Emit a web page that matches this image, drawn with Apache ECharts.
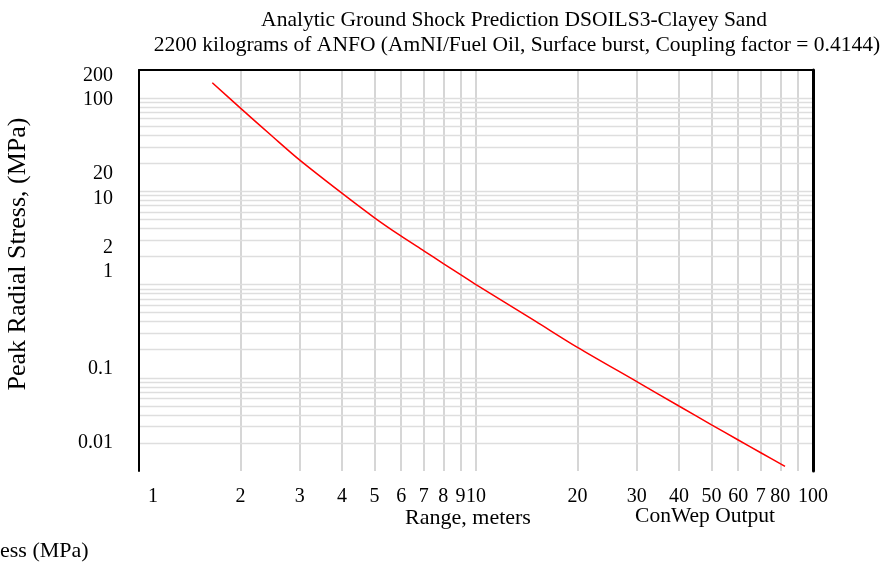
<!DOCTYPE html>
<html><head><meta charset="utf-8">
<script src="https://cdn.jsdelivr.net/npm/echarts@6/dist/echarts.min.js"></script>
<style>html,body{margin:0;padding:0;background:#fff}#c{width:885px;height:563px}</style>
</head><body><div id="c"></div>
<script>
// Range (m) and peak radial stress (MPa)
const rangeM    = [1.65, 2, 2.5, 3, 4, 5, 6, 7, 8, 9, 10, 15, 20, 30, 40, 50, 60, 70, 82.6];
const stressMPa = [146, 78, 38.2, 21.6, 9.55, 5.2, 3.3, 2.3, 1.68, 1.28, 1.0, 0.405, 0.212, 0.091, 0.0498, 0.0313, 0.0215, 0.0157, 0.0112];

// Grid lines
const xGridValues = [2, 3, 4, 5, 6, 7, 8, 9, 10, 20, 30, 40, 50, 60, 70, 80, 90];
const yGridValues = [100, 90, 80, 70, 60, 50, 40, 30, 20,
                     10, 9, 8, 7, 6, 5, 4, 3, 2,
                     1, 0.9, 0.8, 0.7, 0.6, 0.5, 0.4, 0.3, 0.2,
                     0.1, 0.09, 0.08, 0.07, 0.06, 0.05, 0.04, 0.03, 0.02];

// Tick labels (x: at the value; y: labels sit where the original plot drew them)
const xTickValues = [1, 2, 3, 4, 5, 6, 7, 8, 9, 10, 20, 30, 40, 50, 60, 70, 80, 100];
const xTickLabels = ['1', '2', '3', '4', '5', '6', '7', '8', '9', '10', '20', '30', '40', '50', '60', '7', '80', '100'];
const yTickLabels = ['200', '100', '20', '10', '2', '1', '0.1', '0.01'];
const yTickAt     = [175, 97, 15.6, 8.4, 2.5, 1.36, 0.124, 0.020];

const titleLines = ['Analytic Ground Shock Prediction DSOILS3-Clayey Sand',
                    '2200 kilograms of ANFO (AmNI/Fuel Oil, Surface burst, Coupling factor = 0.4144)'];
const yTitle = 'Peak Radial Stress, (MPa)';
const xTitle = 'Range, meters';
const footNote = 'ConWep Output';
const cutNote = 'ess (MPa)';

const SERIF = '"Liberation Serif", "Times New Roman", serif';
const chart = echarts.init(document.getElementById('c'));

const hiddenAxis = {axisTick:{show:false}, axisLabel:{show:false}, splitLine:{show:false}, minorSplitLine:{show:false}};
const option = {
  animation: false,
  grid: {left: 139, right: 72, top: 70, bottom: 92},
  xAxis: [
    Object.assign({type:'log', logBase:10, min:1, max:100, axisLine:{show:false}}, hiddenAxis),
    Object.assign({type:'log', logBase:10, min:1, max:100, position:'top', z:20,
      axisLine:{show:true, onZero:false, lineStyle:{color:'#000', width:2}}}, hiddenAxis)
  ],
  yAxis: [
    Object.assign({type:'log', logBase:10, min:0.01, max:200, z:20,
      axisLine:{show:true, onZero:false, lineStyle:{color:'#000', width:2}}}, hiddenAxis),
    Object.assign({type:'log', logBase:10, min:0.01, max:200, position:'right', z:20,
      axisLine:{show:true, onZero:false, lineStyle:{color:'#000', width:3}}}, hiddenAxis)
  ],
  series: [
    {
      type: 'line', xAxisIndex: 0, yAxisIndex: 0, z: 1,
      data: rangeM.map((x, i) => [x, stressMPa[i]]),
      showSymbol: false, lineStyle: {opacity: 0}, silent: true,
      markLine: {
        silent: true, symbol: 'none', animation: false, label: {show: false},
        data: xGridValues.map(v => ({xAxis: v, lineStyle: {color: '#c8c8c8', width: 1.5, type: 'solid'}}))
          .concat(yGridValues.map(v => ({yAxis: v, lineStyle: {color: '#dedede', width: 1.3, type: 'solid'}})))
      }
    },
    {
      type: 'line', xAxisIndex: 0, yAxisIndex: 0, z: 10,
      data: rangeM.map((x, i) => [x, stressMPa[i]]),
      showSymbol: false, smooth: 0.3,
      lineStyle: {color: '#ff0000', width: 1.5}
    }
  ]
};
chart.setOption(option);

const g = [];
const txt = (x, y, text, align, size, extra) => Object.assign({
  type: 'text', x: x, y: y, silent: true,
  style: {text: text, font: size + 'px ' + SERIF, fill: '#000', align: align, verticalAlign: 'middle'}
}, extra || {});

xTickValues.forEach((v, i) => {
  const p = chart.convertToPixel({gridIndex: 0}, [v, 0.01]);
  // the first label is kept clear of the left frame line, as in the original
  const x = i === 0 ? p[0] + 14 : p[0];
  g.push(txt(x, p[1] + 26, xTickLabels[i], 'center', 20));
});
yTickAt.forEach((v, i) => {
  const p = chart.convertToPixel({gridIndex: 0}, [1, v]);
  g.push(txt(p[0] - 26, p[1], yTickLabels[i], 'right', 20));
});
g.push(txt(514, 20, titleLines[0], 'center', 21.5));
g.push(txt(517, 45, titleLines[1], 'center', 21.5));
g.push(txt(18, 254, yTitle, 'center', 26, {rotation: Math.PI / 2}));
g.push(txt(468, 518, xTitle, 'center', 22));
g.push(txt(705, 516, footNote, 'center', 21.5));
g.push(txt(0, 551, cutNote, 'left', 22));

chart.setOption({graphic: {elements: g}});
</script>
</body></html>
